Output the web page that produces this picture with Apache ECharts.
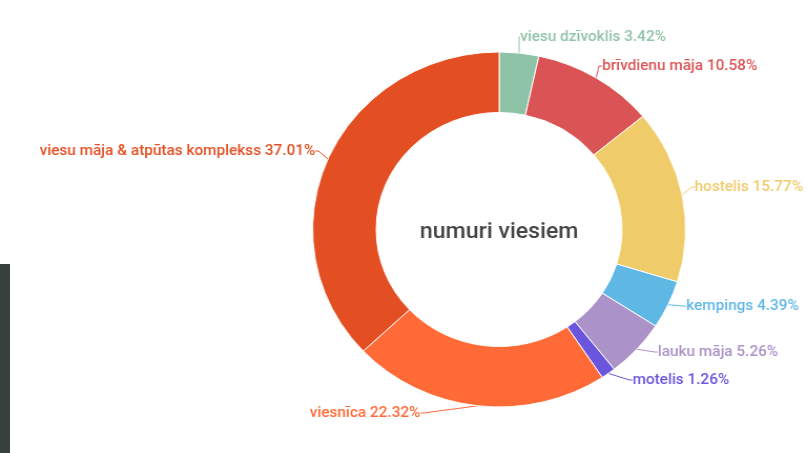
<!DOCTYPE html>
<html>
<head>
<meta charset="utf-8">
<script src="https://cdn.jsdelivr.net/npm/echarts@6/dist/echarts.min.js"></script>
<style>
html,body{margin:0;padding:0;background:#fff;overflow:hidden;}
#wrap{position:absolute;left:0;top:0;width:807px;height:453px;overflow:hidden;}
#chart{position:absolute;left:0;top:0;width:768px;height:453px;transform:scaleX(1.0508);transform-origin:0 0;}
#bar{position:absolute;left:0;top:264px;width:10px;height:189px;background:#353f3c;}
</style>
</head>
<body>
<div id="wrap"><div id="chart"></div><div id="bar"></div></div>
<script>
const categories = ['viesu dzīvoklis','brīvdienu māja','hostelis','kempings','lauku māja','motelis','viesnīca','viesu māja & atpūtas komplekss'];
const values = [3.42, 10.58, 15.77, 4.39, 5.26, 1.26, 22.32, 37.01];
const colors = ['#8fc3a8','#db5455','#f0cb6a','#5fb8e4','#ab92c8','#6b55dc','#ff6a37','#e34f23'];
const centerTitle = 'numuri viesiem';
// label anchor positions (unscaled chart px): [x, y, align]
const labelAnchors = [[495,37,'left'],[573,66,'left'],[661,187,'left'],[653,306,'left'],[626,352,'left'],[602,380,'left'],[400,413,'right'],[300,151,'right']];

const chart = echarts.init(document.getElementById('chart'));
chart.setOption({
  animation: false,
  graphic: [{
    type: 'text', x: 475, y: 232,
    style: { text: centerTitle, fill: '#444', font: '500 22px Roboto', textAlign: 'center', textVerticalAlign: 'middle' }
  }],
  series: [{
    type: 'pie',
    center: [475, 229.5],
    radius: [117, 177.5],
    startAngle: 90,
    avoidLabelOverlap: false,
    itemStyle: { borderColor: '#fff', borderWidth: 1 },
    label: {
      show: true, position: 'outside', formatter: '{b} {c}%', overflow: 'none',
      fontFamily: 'Roboto', fontWeight: 500, fontSize: 14.6, color: 'inherit'
    },
    labelLine: { show: true, length: 10, length2: 3, lineStyle: { width: 1 } },
    labelLayout: function (p) {
      const a = labelAnchors[p.dataIndex];
      return { x: a[0], y: a[1], align: a[2], verticalAlign: 'middle' };
    },
    data: categories.map((c, i) => ({ name: c, value: values[i], itemStyle: { color: colors[i] } }))
  }]
});
</script>
</body>
</html>
